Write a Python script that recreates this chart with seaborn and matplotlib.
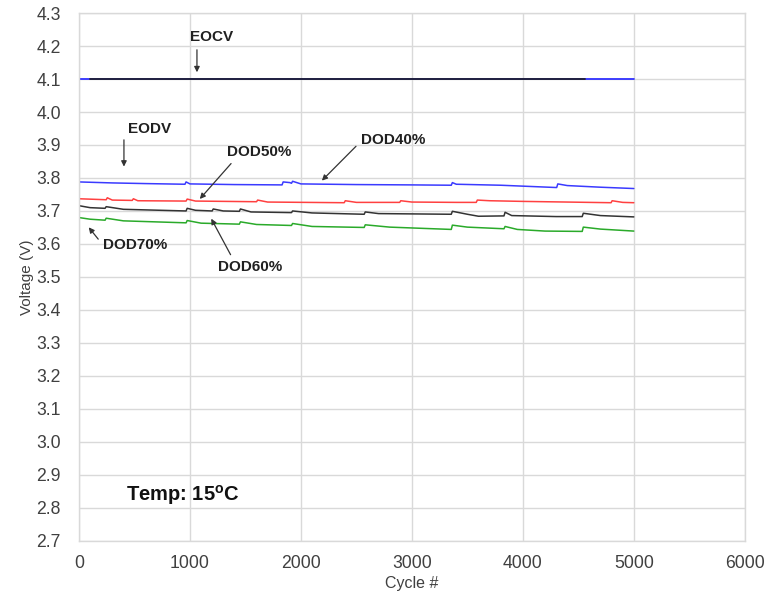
import matplotlib
matplotlib.use("Agg")
import matplotlib.pyplot as plt
import seaborn as sns
import pandas as pd

# ---- data ----
eocv_blue_x = [0, 5000]
eocv_blue_y = [4.100, 4.100]
eocv_black_x = [100, 4560]
eocv_black_y = [4.101, 4.101]

dod40_x = [0, 300, 600, 955, 965, 1000, 1400, 1830, 1840, 1900, 1915, 1925, 2000, 2500, 3000,
           3355, 3365, 3400, 3800, 4305, 4315, 4400, 4700, 5000]
dod40_y = [3.788, 3.785, 3.783, 3.781, 3.788, 3.782, 3.780, 3.779, 3.788, 3.786, 3.784, 3.790,
           3.782, 3.780, 3.779, 3.778, 3.786, 3.781, 3.778, 3.771, 3.782, 3.777, 3.772, 3.768]

dod50_x = [0, 245, 255, 300, 480, 490, 530, 965, 975, 1050, 1600, 1610, 1700, 2390, 2400, 2500,
           2890, 2900, 3000, 3400, 3580, 3590, 3700, 4000, 4400, 4795, 4805, 4900, 5000]
dod50_y = [3.737, 3.734, 3.740, 3.733, 3.732, 3.737, 3.731, 3.730, 3.736, 3.730, 3.728, 3.733,
           3.727, 3.725, 3.731, 3.726, 3.726, 3.731, 3.727, 3.726, 3.726, 3.733, 3.731, 3.729,
           3.727, 3.725, 3.731, 3.726, 3.725]

dod60_x = [0, 100, 235, 245, 400, 965, 975, 1050, 1200, 1210, 1300, 1445, 1455, 1550, 1915, 1925,
           2100, 2570, 2580, 2700, 3355, 3365, 3500, 3600, 3830, 3840, 3900, 4300, 4535, 4545,
           4700, 5000]
dod60_y = [3.716, 3.710, 3.708, 3.713, 3.705, 3.700, 3.708, 3.702, 3.700, 3.706, 3.700, 3.699,
           3.706, 3.697, 3.695, 3.700, 3.694, 3.690, 3.697, 3.692, 3.690, 3.699, 3.690, 3.684,
           3.685, 3.696, 3.686, 3.683, 3.683, 3.693, 3.686, 3.682]

dod70_x = [0, 100, 235, 245, 400, 965, 975, 1100, 1445, 1455, 1600, 1915, 1925, 2100, 2570, 2580,
           2800, 3355, 3365, 3500, 3830, 3840, 3950, 4200, 4535, 4545, 4700, 5000]
dod70_y = [3.680, 3.675, 3.672, 3.678, 3.670, 3.664, 3.671, 3.663, 3.660, 3.667, 3.659, 3.656,
           3.662, 3.653, 3.650, 3.658, 3.651, 3.644, 3.657, 3.651, 3.646, 3.653, 3.644, 3.639,
           3.638, 3.651, 3.645, 3.639]

x_ticks = [0, 1000, 2000, 3000, 4000, 5000, 6000]
y_ticks = [2.7, 2.8, 2.9, 3.0, 3.1, 3.2, 3.3, 3.4, 3.5, 3.6, 3.7, 3.8, 3.9, 4.0, 4.1, 4.2, 4.3]

# ---- style ----
sns.set_theme(style="whitegrid")
plt.rcParams['font.family'] = ['Liberation Sans', 'DejaVu Sans']

fig = plt.figure(figsize=(7.67, 5.93), dpi=100)
ax = fig.add_axes([0.103, 0.088, 0.868, 0.890])

def draw(x, y, color, lw=1.0):
    sns.lineplot(data=pd.DataFrame({"x": x, "y": y}), x="x", y="y", color=color,
                 linewidth=lw, ax=ax, estimator=None, sort=False)

draw(eocv_blue_x, eocv_blue_y, "#3030ff", 1.3)
draw(eocv_black_x, eocv_black_y, "#202030", 1.3)
draw(dod40_x, dod40_y, "#3a3aff", 1.1)
draw(dod50_x, dod50_y, "#ff4040", 1.1)
draw(dod60_x, dod60_y, "#333333", 1.1)
draw(dod70_x, dod70_y, "#2aaa2a", 1.1)

ax.set_xlim(0, 6000)
ax.set_ylim(2.7, 4.3)
ax.set_xticks(x_ticks)
ax.set_yticks(y_ticks)
ax.set_yticklabels([f"{v:.1f}" for v in y_ticks])
ax.tick_params(axis='both', labelsize=12.7, colors="#404040", length=0)
ax.tick_params(axis='y', pad=13)
ax.tick_params(axis='x', pad=10)
ax.grid(True, color="#d9d9d9", linewidth=1.0)
for s in ax.spines.values():
    s.set_color("#d9d9d9")
    s.set_linewidth(1.0)

ax.set_xlabel("Cycle #", fontsize=11.5, color="#404040", labelpad=3)
ax.set_ylabel("Voltage (V)", fontsize=11, color="#404040", labelpad=2)

akw = dict(arrowstyle="-|>", color="#333333", lw=0.9, mutation_scale=8)
tkw = dict(fontsize=11, fontweight="bold", color="#202020")

ax.text(1198, 4.227, "EOCV", ha="center", va="center", **tkw)
ax.annotate("", xy=(1063, 4.112), xytext=(1063, 4.197), arrowprops=akw)

ax.text(640, 3.948, "EODV", ha="center", va="center", **tkw)
ax.annotate("", xy=(405, 3.826), xytext=(405, 3.924), arrowprops=akw)

ax.text(1620, 3.880, "DOD50%", ha="center", va="center", **tkw)
ax.annotate("", xy=(1072, 3.730), xytext=(1387, 3.850), arrowprops=akw)

ax.text(2830, 3.915, "DOD40%", ha="center", va="center", **tkw)
ax.annotate("", xy=(2171, 3.786), xytext=(2514, 3.902), arrowprops=akw)

ax.text(505, 3.596, "DOD70%", ha="center", va="center", **tkw)
ax.annotate("", xy=(72, 3.657), xytext=(189, 3.608), arrowprops=akw)

ax.text(1540, 3.529, "DOD60%", ha="center", va="center", **tkw)
ax.annotate("", xy=(1180, 3.684), xytext=(1378, 3.560), arrowprops=akw)

ax.text(937, 2.840, "Temp: 15$^{\\mathregular{o}}$C", ha="center", va="center",
        fontsize=14.5, fontweight="bold", color="#111111")

fig.savefig("out.png", dpi=100)
